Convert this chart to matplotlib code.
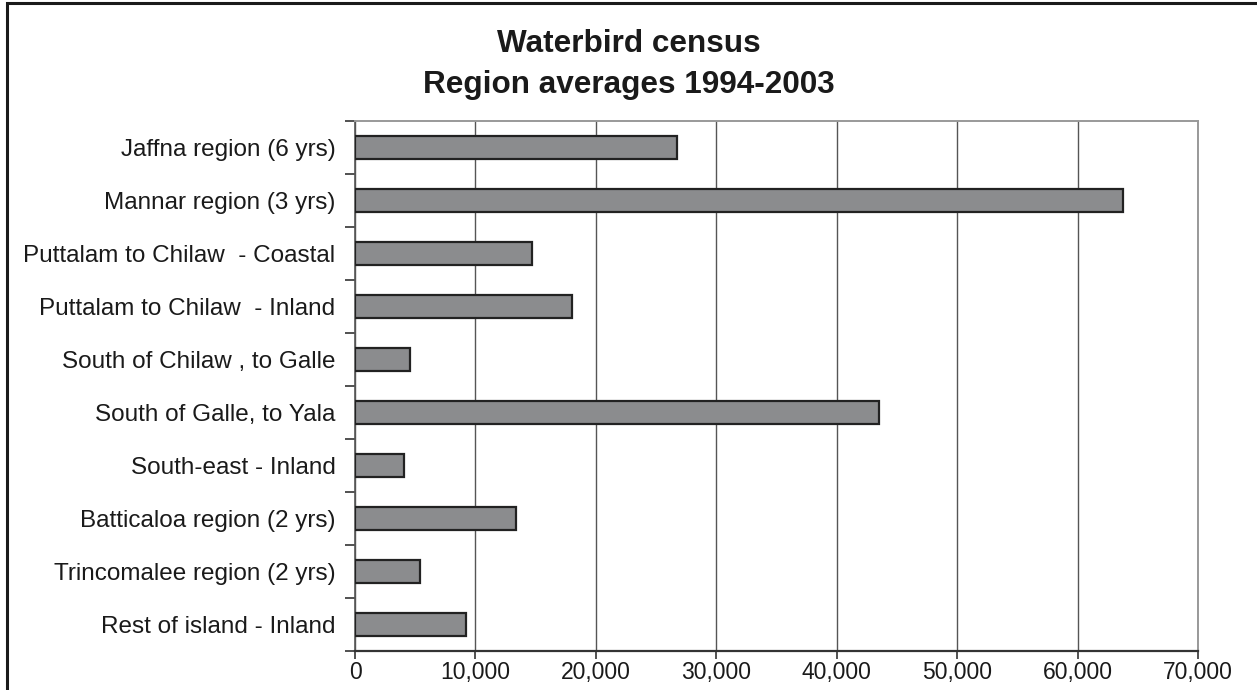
import numpy as np
import matplotlib
matplotlib.use('Agg')
import matplotlib.pyplot as plt
from matplotlib.ticker import FuncFormatter, MultipleLocator, FixedLocator
from matplotlib.patches import Rectangle

# data, top to bottom as in the chart
regions = [
    'Jaffna region (6 yrs)',
    'Mannar region (3 yrs)',
    'Puttalam to Chilaw  - Coastal',
    'Puttalam to Chilaw  - Inland',
    'South of Chilaw , to Galle',
    'South of Galle, to Yala',
    'South-east - Inland',
    'Batticaloa region (2 yrs)',
    'Trincomalee region (2 yrs)',
    'Rest of island - Inland',
]
averages = [26770, 63800, 14730, 18000, 4600, 43550, 4040, 13400, 5400, 9220]
title_lines = ['Waterbird census', 'Region averages 1994-2003']

plt.rcParams['font.family'] = ['Liberation Sans', 'DejaVu Sans']

fig = plt.figure(figsize=(12.57, 6.9), dpi=100)
ax = fig.add_axes([355 / 1257, 39 / 690, 843 / 1257, 530 / 690])

n = len(regions)
ypos = np.arange(n)
ax.barh(ypos, averages, height=0.42, color='#8b8c8e', edgecolor='#222222',
        linewidth=1.6, zorder=3)

ax.set_xlim(0, 70000)
ax.set_ylim(n - 0.5, -0.5)
ax.xaxis.set_major_locator(MultipleLocator(10000))
ax.xaxis.set_major_formatter(FuncFormatter(lambda v, p: f'{int(v):,}'))
ax.grid(axis='x', color='#555555', linewidth=1.0, zorder=0)

ax.set_yticks(ypos)
ax.set_yticklabels(regions)
ax.yaxis.set_minor_locator(FixedLocator(np.arange(-0.5, n, 1.0)))
ax.tick_params(axis='y', which='major', length=0, pad=14, labelsize=17.5, labelcolor='#1a1a1a')
ax.tick_params(axis='y', which='minor', length=7, width=1.2, color='#333333')
ax.tick_params(axis='x', length=6, width=1.2, color='#333333', pad=1,
               labelsize=16.5, labelcolor='#1a1a1a')

ax.spines['left'].set_color('#555555')
ax.spines['left'].set_linewidth(1.2)
ax.spines['bottom'].set_color('#333333')
ax.spines['bottom'].set_linewidth(1.6)
ax.spines['top'].set_color('#999999')
ax.spines['top'].set_linewidth(1.4)
ax.spines['right'].set_color('#999999')
ax.spines['right'].set_linewidth(1.4)

fig.text(0.5, 1 - 44 / 690, title_lines[0], ha='center', va='center',
         fontsize=22.7, fontweight='bold', color='#1a1a1a')
fig.text(0.5, 1 - 85 / 690, title_lines[1], ha='center', va='center',
         fontsize=22.7, fontweight='bold', color='#1a1a1a')

# outer frame (right and bottom edges fall outside the picture)
fig.patches.append(Rectangle((7 / 1257, -0.1), 1.2, 1 - 3 / 690 + 0.1,
                             transform=fig.transFigure, fill=False,
                             edgecolor='#1a1a1a', linewidth=2.2))

fig.savefig('out.png', dpi=100)
